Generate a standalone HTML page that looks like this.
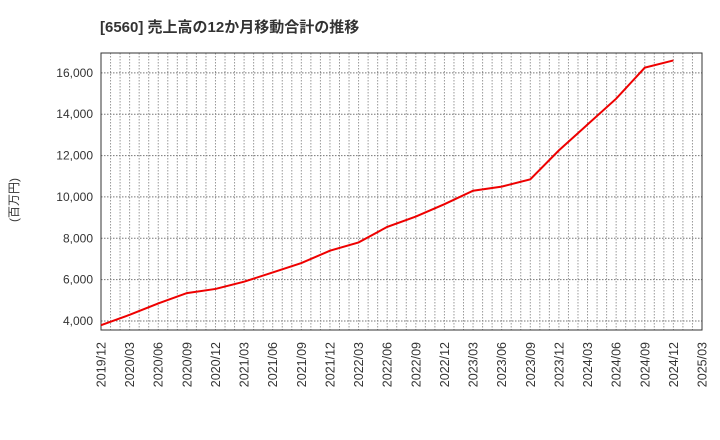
<!DOCTYPE html>
<html><head><meta charset="utf-8"><style>body{margin:0;background:#fff}svg{display:block}</style></head>
<body>
<svg id="c" width="720" height="440" xmlns="http://www.w3.org/2000/svg" font-family="'Liberation Sans','Noto Sans CJK JP',sans-serif">
<text x="100" y="32" font-size="15" font-weight="bold" fill="#333">[6560]  売上高の12か月移動合計の推移</text>
<text transform="translate(18,200) rotate(-90)" font-size="12" fill="#333" text-anchor="middle">(百万円)</text>
<g id="grid"></g><g id="axes"></g><g id="series"></g>
</svg>
<script>
const categories=["2019/12","2020/03","2020/06","2020/09","2020/12","2021/03","2021/06","2021/09","2021/12","2022/03","2022/06","2022/09","2022/12","2023/03","2023/06","2023/09","2023/12","2024/03","2024/06","2024/09","2024/12"];
const tickLabels=["2019/12","2020/03","2020/06","2020/09","2020/12","2021/03","2021/06","2021/09","2021/12","2022/03","2022/06","2022/09","2022/12","2023/03","2023/06","2023/09","2023/12","2024/03","2024/06","2024/09","2024/12","2025/03"];
const salesValues=[3800,4300,4850,5350,5550,5900,6350,6800,7400,7800,8550,9050,9650,10300,10500,10850,12250,13500,14750,16250,16600];
const yTicks=[4000,6000,8000,10000,12000,14000,16000];
const NS="http://www.w3.org/2000/svg";
const L=101,R=702,T=53,B=330,yMin=3565,yMax=16960;
const xq=i=>L+(R-L)*i/21;
const y=v=>B-(v-yMin)/(yMax-yMin)*(B-T);
function mk(t,a,p){const e=document.createElementNS(NS,t);for(const k in a)e.setAttribute(k,a[k]);p.appendChild(e);return e;}
const g=document.getElementById('grid'),ax=document.getElementById('axes'),s=document.getElementById('series');
for(let m=1;m<63;m++){const x=L+(R-L)*m/63;
const l=mk('line',{x1:x,x2:x,y1:T,y2:B,stroke:'#999','stroke-dasharray':'1.5,1.5','stroke-width':1},g);

}
yTicks.forEach(v=>{const l=mk('line',{x1:L,x2:R,y1:y(v),y2:y(v),stroke:'#777','stroke-dasharray':'1.5,1.5','stroke-width':1},g);


const t=mk('text',{x:L-8,y:y(v)+4,'font-size':12,'text-anchor':'end',fill:'#333'},ax);t.textContent=v.toLocaleString('en-US');

});
tickLabels.forEach((c,i)=>{const x=xq(i);const t=mk('text',{transform:`translate(${x+4.5},${B+12}) rotate(-90)`,'font-size':12.5,'text-anchor':'end',fill:'#333'},ax);t.textContent=c;

});
const fr=mk('rect',{x:L,y:T,width:R-L,height:B-T,fill:'none',stroke:'#333','stroke-width':1},ax);


const p=mk('polyline',{points:salesValues.map((v,i)=>xq(i)+','+y(v)).join(' '),fill:'none',stroke:'#e00','stroke-width':2},s);


</script>
</body></html>
